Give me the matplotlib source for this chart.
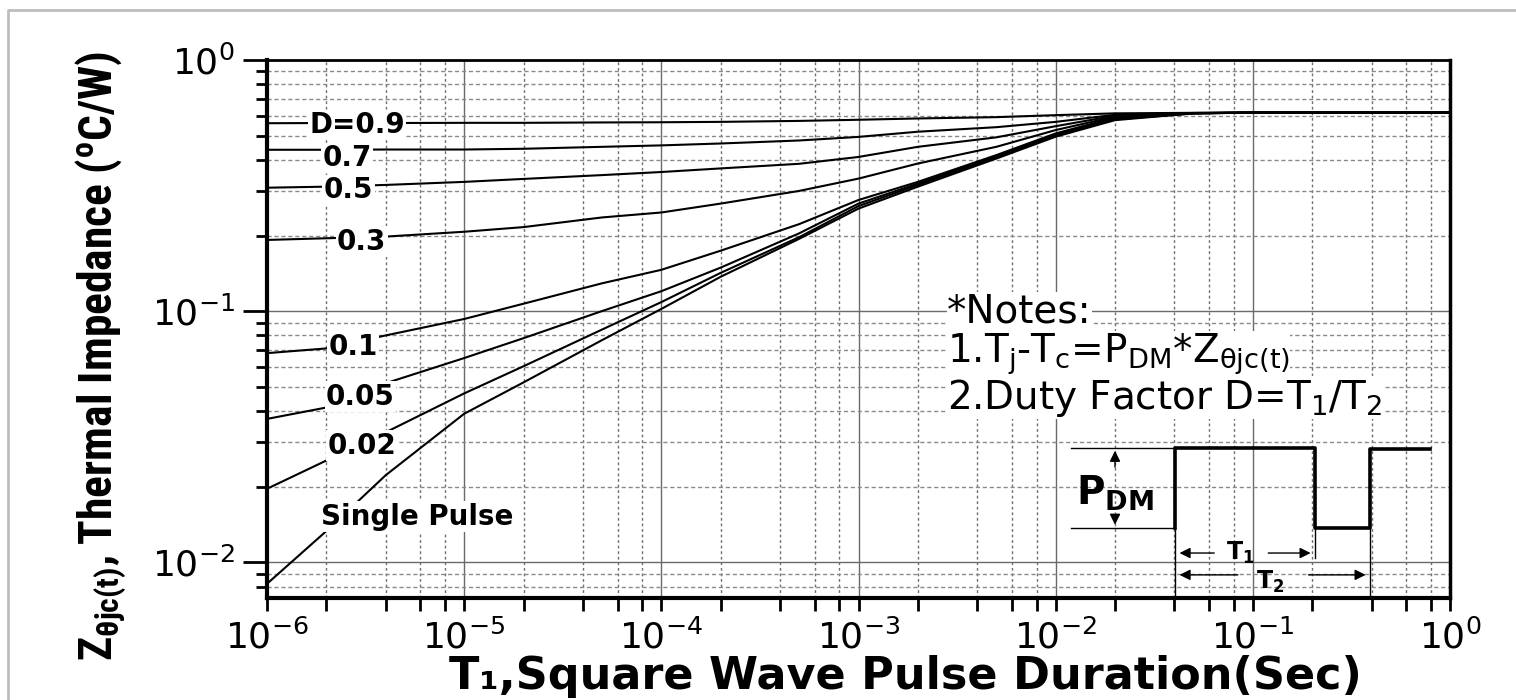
import numpy as np
import matplotlib
matplotlib.use('Agg')
import matplotlib.pyplot as plt
from matplotlib import font_manager
from matplotlib.lines import Line2D
from matplotlib.ticker import LogLocator, NullFormatter

plt.rcParams['axes.unicode_minus'] = False

# pulse width T1 (sec) at which the curves were read
t_pulse = [1e-6, 2e-6, 4e-6, 1e-5, 2e-5, 5e-5, 1e-4, 2e-4, 5e-4,
           1e-3, 2e-3, 5e-3, 1e-2, 2e-2, 5e-2, 1e-1, 1.0]

# Z(t) in C/W for every duty factor
z_d09 = [0.560, 0.561, 0.561, 0.562, 0.562, 0.564, 0.565, 0.567, 0.572,
         0.578, 0.585, 0.592, 0.603, 0.613, 0.616, 0.617, 0.617]
z_d07 = [0.439, 0.439, 0.440, 0.440, 0.443, 0.451, 0.457, 0.465, 0.478,
         0.494, 0.518, 0.540, 0.567, 0.605, 0.615, 0.617, 0.617]
z_d05 = [0.310, 0.313, 0.318, 0.327, 0.336, 0.348, 0.358, 0.370, 0.386,
         0.411, 0.451, 0.492, 0.545, 0.600, 0.615, 0.617, 0.617]
z_d03 = [0.192, 0.195, 0.198, 0.207, 0.216, 0.236, 0.247, 0.268, 0.301,
         0.337, 0.387, 0.451, 0.526, 0.595, 0.614, 0.617, 0.617]
z_d01 = [0.068, 0.071, 0.080, 0.093, 0.107, 0.129, 0.146, 0.174, 0.222,
         0.277, 0.327, 0.418, 0.510, 0.590, 0.614, 0.617, 0.617]
z_d005 = [0.0372, 0.0413, 0.0516, 0.065, 0.078, 0.100, 0.120, 0.149, 0.204,
          0.268, 0.322, 0.413, 0.503, 0.585, 0.613, 0.617, 0.617]
z_d002 = [0.0196, 0.0254, 0.0329, 0.047, 0.0603, 0.0844, 0.1086, 0.142, 0.197,
          0.262, 0.318, 0.410, 0.500, 0.580, 0.613, 0.617, 0.617]
z_single = [0.0082, 0.0133, 0.0222, 0.039, 0.052, 0.0766, 0.102, 0.137, 0.194,
            0.256, 0.313, 0.405, 0.495, 0.576, 0.613, 0.617, 0.617]

curves = [z_d09, z_d07, z_d05, z_d03, z_d01, z_d005, z_d002, z_single]
curve_names = ['D=0.9', '0.7', '0.5', '0.3', '0.1', '0.05', '0.02', 'Single Pulse']
# where the curve names sit (axes fraction)
name_pos = [(0.076, 0.879), (0.068, 0.818), (0.069, 0.758), (0.080, 0.662),
            (0.073, 0.467), (0.079, 0.374), (0.080, 0.283), (0.127, 0.151)]


def narrow_bold():
    # the datasheet uses a condensed bold face for the y title
    tries = [('Liberation Sans Narrow', 'normal'), ('Roboto Condensed', 'normal'),
             ('Noto Sans Condensed', 'normal'), ('Open Sans Condensed', 'normal'),
             ('Noto Sans', 'condensed'), ('DejaVu Sans', 'condensed')]
    for fam, st in tries:
        fp = font_manager.FontProperties(family=fam, weight='bold', stretch=st)
        try:
            path = font_manager.findfont(fp, fallback_to_default=False)
        except ValueError:
            continue
        if 'ondensed' in path or 'arrow' in path:
            return fp
    return font_manager.FontProperties(family='DejaVu Sans', weight='bold')


fig = plt.figure(figsize=(15.16, 7.0), dpi=100)
ax = fig.add_axes([0.1761, 0.1457, 0.7804, 0.7686])

for z in curves:
    ax.plot(t_pulse, z, color='black', lw=1.5, zorder=3)

ax.set_xscale('log')
ax.set_yscale('log')
ax.set_xlim(1e-6, 1)
ax.set_ylim(0.0072, 1)

ax.xaxis.set_major_locator(LogLocator(base=10, numticks=20))
ax.yaxis.set_major_locator(LogLocator(base=10, numticks=20))
ax.xaxis.set_minor_locator(LogLocator(base=10, subs=(2, 4, 6, 8), numticks=40))
ax.yaxis.set_minor_locator(LogLocator(base=10, subs=np.arange(2, 10), numticks=40))
ax.xaxis.set_minor_formatter(NullFormatter())
ax.yaxis.set_minor_formatter(NullFormatter())

ax.grid(which='major', color='#6a6a6a', lw=1.0, ls='-')
ax.grid(which='minor', axis='x', color='#707070', lw=1.0, ls=(0, (2, 2)))
ax.grid(which='minor', axis='y', color='#8a8a8a', lw=1.0, ls=(0, (3, 2)))

ax.tick_params(axis='x', which='both', direction='out', length=9, width=2,
               labelsize=26, pad=6)
ax.tick_params(axis='y', which='major', direction='out', length=17, width=2,
               labelsize=26, pad=6)
ax.tick_params(axis='y', which='minor', direction='out', length=8, width=2)
ax.spines['left'].set_linewidth(3)
ax.spines['bottom'].set_linewidth(3)
ax.spines['top'].set_linewidth(2)
ax.spines['right'].set_linewidth(2.5)

# curve names, white box cuts the line like in the datasheet
for name, (fx, fy) in zip(curve_names, name_pos):
    ax.text(fx, fy, name, transform=ax.transAxes, ha='center', va='center',
            fontsize=20, fontweight='bold', zorder=5,
            bbox=dict(fc='white', ec='none', pad=1))

# notes
notes = ['*Notes:',
         r'1.T$_{\mathdefault{j}}$-T$_{\mathdefault{c}}$=P$_{\mathdefault{DM}}$*Z$_{\mathdefault{θjc(t)}}$',
         r'2.Duty Factor D=T$_{\mathdefault{1}}$/T$_{\mathdefault{2}}$']
notes_y = [0.532, 0.454, 0.372]
notes_z = [8, 7, 6]
for s, fy, zo in zip(notes, notes_y, notes_z):
    ax.text(0.5748, fy, s, transform=ax.transAxes, ha='left', va='center',
            fontsize=28, zorder=zo, clip_on=False,
            bbox=dict(fc='white', ec='none', pad=0.3))

# pulse sketch
tr = ax.transAxes
ax.plot([0.7675, 0.7675, 0.8859, 0.8859, 0.9324, 0.9324, 0.9831],
        [0.131, 0.2788, 0.2788, 0.130, 0.130, 0.2770, 0.2770],
        transform=tr, color='black', lw=2.6, zorder=4, clip_on=False)
ax.plot([0.6796, 0.7675], [0.2788, 0.2788], transform=tr, color='black', lw=1, zorder=4)
ax.plot([0.6796, 0.7675], [0.131, 0.131], transform=tr, color='black', lw=1, zorder=4)
ax.plot([0.7675, 0.7675], [0.131, 0.0], transform=tr, color='black', lw=1, zorder=4)
ax.plot([0.8859, 0.8859], [0.130, 0.074], transform=tr, color='black', lw=1, zorder=4)
ax.plot([0.9324, 0.9324], [0.130, 0.0], transform=tr, color='black', lw=1, zorder=4)

arrow = dict(arrowstyle='-|>', color='black', lw=1, mutation_scale=16)
ax.annotate('', xy=(0.7168, 0.2788), xytext=(0.7168, 0.238), xycoords=tr, textcoords=tr, arrowprops=arrow)
ax.annotate('', xy=(0.7168, 0.131), xytext=(0.7168, 0.158), xycoords=tr, textcoords=tr, arrowprops=arrow)
ax.text(0.7168, 0.195, r'P$_{\mathdefault{DM}}$', transform=tr, ha='center', va='center',
        fontsize=28, fontweight='bold', zorder=6)

ax.annotate('', xy=(0.7690, 0.0836), xytext=(0.8030, 0.0836), xycoords=tr, textcoords=tr, arrowprops=arrow)
ax.annotate('', xy=(0.8845, 0.0836), xytext=(0.8440, 0.0836), xycoords=tr, textcoords=tr, arrowprops=arrow)
ax.text(0.8225, 0.0836, r'T$_{\mathdefault{1}}$', transform=tr, ha='center', va='center',
        fontsize=17, fontweight='bold', zorder=6)
ax.annotate('', xy=(0.7690, 0.043), xytext=(0.8230, 0.043), xycoords=tr, textcoords=tr, arrowprops=arrow)
ax.annotate('', xy=(0.9310, 0.043), xytext=(0.8780, 0.043), xycoords=tr, textcoords=tr, arrowprops=arrow)
ax.text(0.8480, 0.030, r'T$_{\mathdefault{2}}$', transform=tr, ha='center', va='center',
        fontsize=17, fontweight='bold', zorder=6)

# axis titles
ylab = fig.text(101 / 1516, 1 - 356 / 700,
                r'Z$_{\mathdefault{θjc(t)}}$, Thermal Impedance ($^{\mathdefault{o}}$C/W)',
                rotation=90, ha='center', va='center',
                fontproperties=narrow_bold(), fontsize=24)
fig.text(905 / 1516, 1 - 676 / 700, 'T₁,Square Wave Pulse Duration(Sec)',
         ha='center', va='center', fontsize=32, fontweight='bold')

# fit the y title to the same length as in the datasheet (~615 px)
fig.canvas.draw()
ext = ylab.get_window_extent()
ylab.set_fontsize(24 * 612 / ext.height)

# light grey border of the screenshot
fig.add_artist(Line2D([8 / 1516, 8 / 1516, 1.0], [0.0, 1 - 10 / 700, 1 - 10 / 700],
                      transform=fig.transFigure, color='#bdbdbd', lw=2))

fig.savefig('out.png', dpi=100)
